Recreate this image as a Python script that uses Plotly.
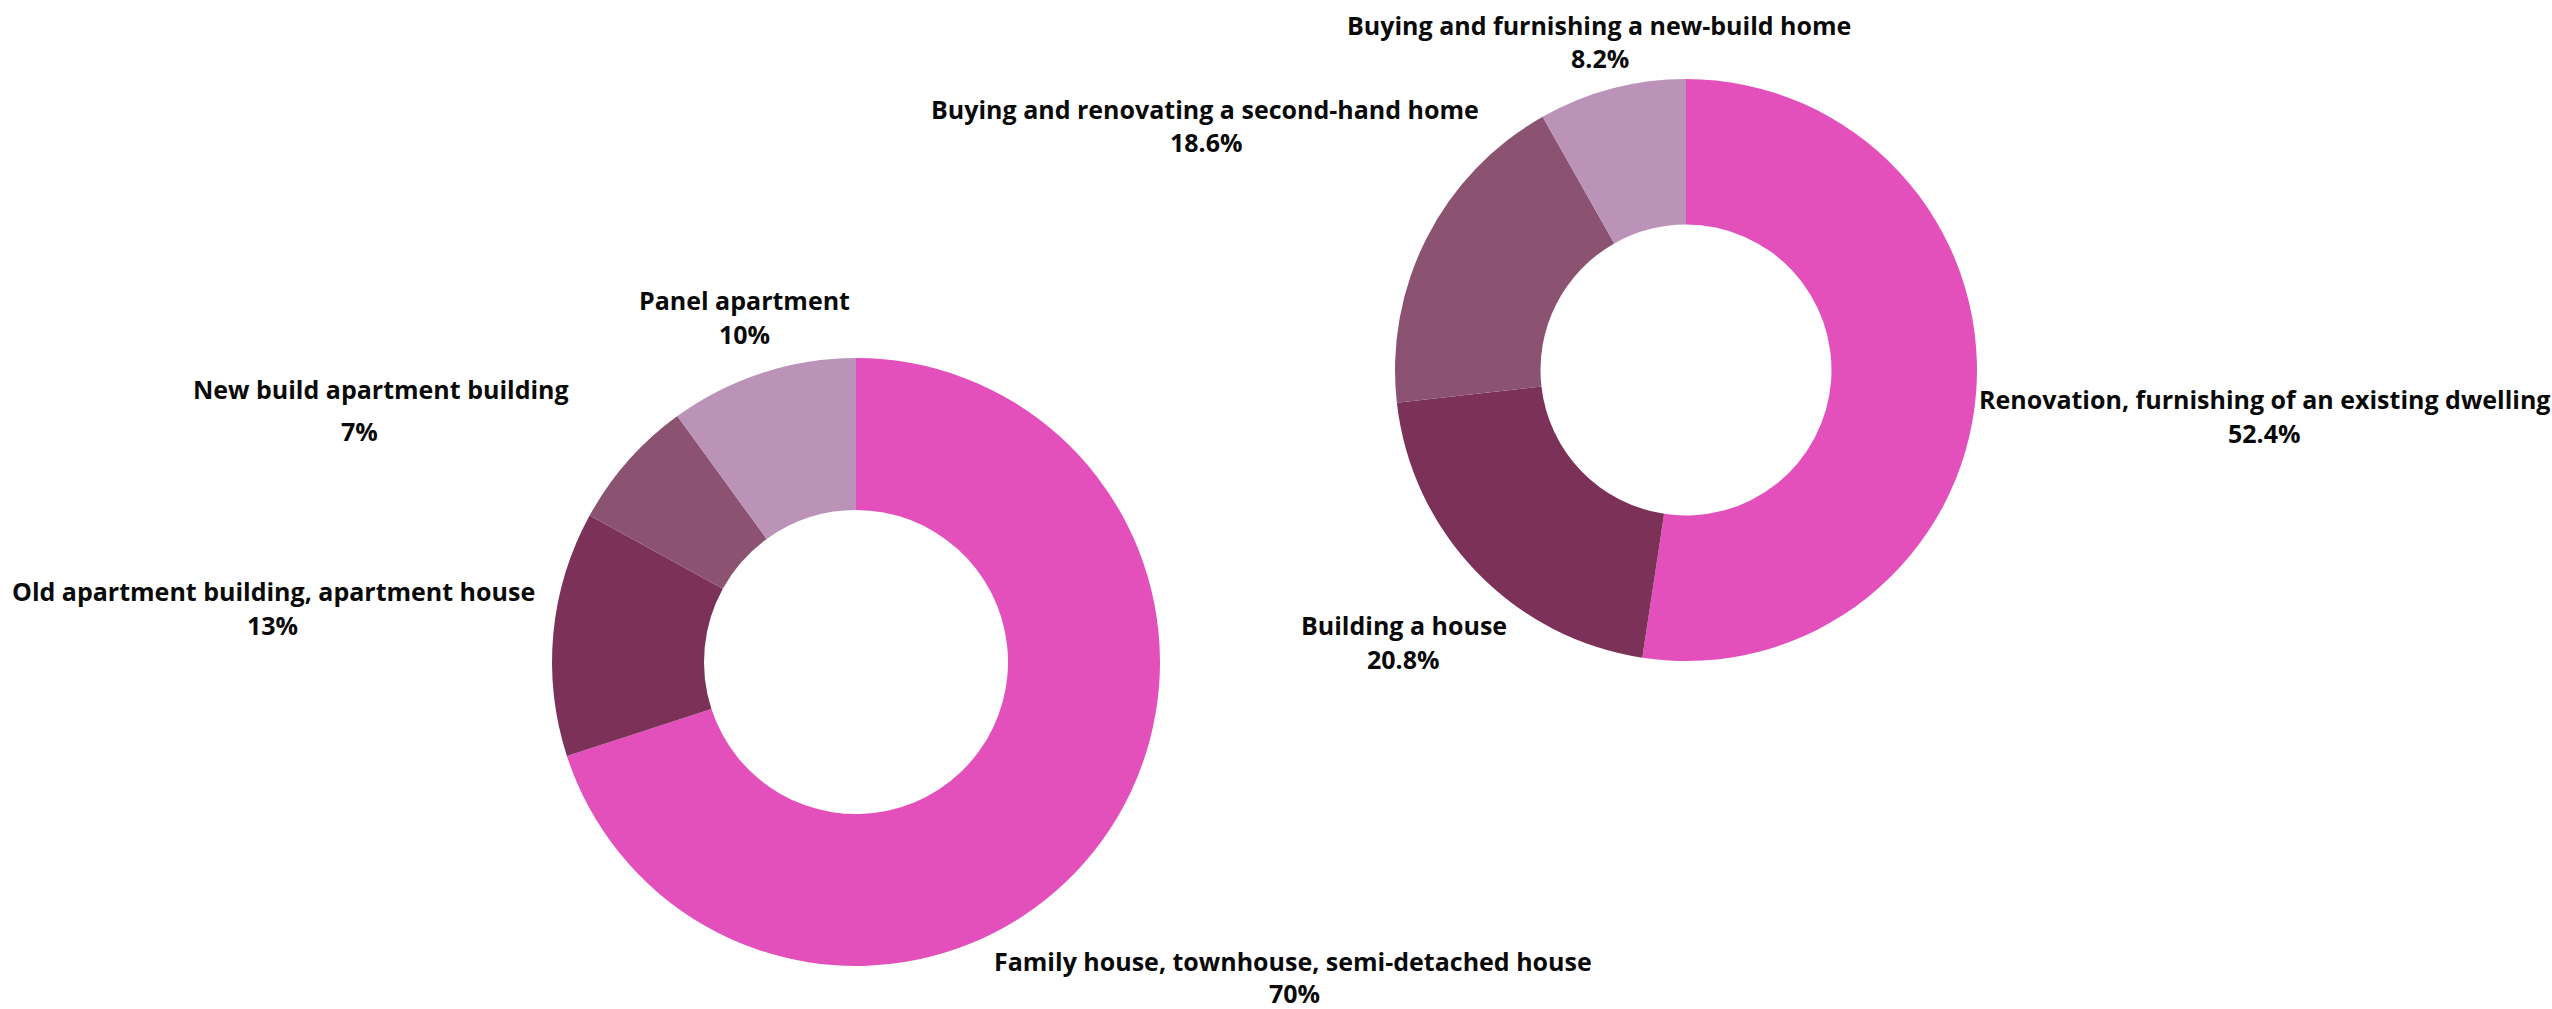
import plotly.graph_objects as go

left_labels = ["Family house, townhouse, semi-detached house", "Old apartment building, apartment house",
               "New build apartment building", "Panel apartment"]
left_values = [70, 13, 7, 10]

right_labels = ["Renovation, furnishing of an existing dwelling", "Building a house",
                "Buying and renovating a second-hand home", "Buying and furnishing a new-build home"]
right_values = [52.4, 20.8, 18.6, 8.2]

colors = ["#E450BB", "#7C3159", "#8B5371", "#BB93B8"]

W, H = 2552, 1009
font = dict(family="Open Sans", size=25, color="#0a0a0a")

# label placement (pixel centres of the name line and of the percentage line)
left_label_pos = [((1293, 961), (1294, 993)), ((273, 591), (272, 625)),
                  ((381, 389), (360, 431)), ((744, 300), (744, 334))]
right_label_pos = [((2265, 399), (2264, 433)), ((1404, 625), (1403, 659)),
                   ((1205, 109), (1206, 142)), ((1599, 25), (1600, 58))]


def dom(cx, cy, r):
    return dict(x=[(cx - r) / W, (cx + r) / W], y=[(H - cy - r) / H, (H - cy + r) / H])


fig = go.Figure()
fig.add_trace(go.Pie(
    labels=left_labels, values=left_values, hole=0.5, sort=False, direction="clockwise", rotation=0,
    marker=dict(colors=colors, line=dict(width=0)), textinfo="none",
    showlegend=False, hoverinfo="label+value", domain=dom(856, 662, 304),
))
fig.add_trace(go.Pie(
    labels=right_labels, values=right_values, hole=0.5, sort=False, direction="clockwise", rotation=0,
    marker=dict(colors=colors, line=dict(width=0)), textinfo="none",
    showlegend=False, hoverinfo="label+value", domain=dom(1686, 370, 291),
))

annotations = []
for labels, values, positions in [(left_labels, left_values, left_label_pos),
                                  (right_labels, right_values, right_label_pos)]:
    for lab, val, (p1, p2) in zip(labels, values, positions):
        for txt, (px, py) in [(lab, p1), (f"{val:g}%", p2)]:
            annotations.append(dict(
                text=f"<b>{txt}</b>", x=px / W, y=1 - py / H, xref="paper", yref="paper",
                xanchor="center", yanchor="middle", showarrow=False, font=font,
                borderpad=0,
            ))

fig.update_layout(width=W, height=H, margin=dict(l=0, r=0, t=0, b=0),
                  paper_bgcolor="white", plot_bgcolor="white", font=font,
                  annotations=annotations)
fig.write_html("out.html", config={"displayModeBar": False},
               post_script="document.body.style.margin='0';")
